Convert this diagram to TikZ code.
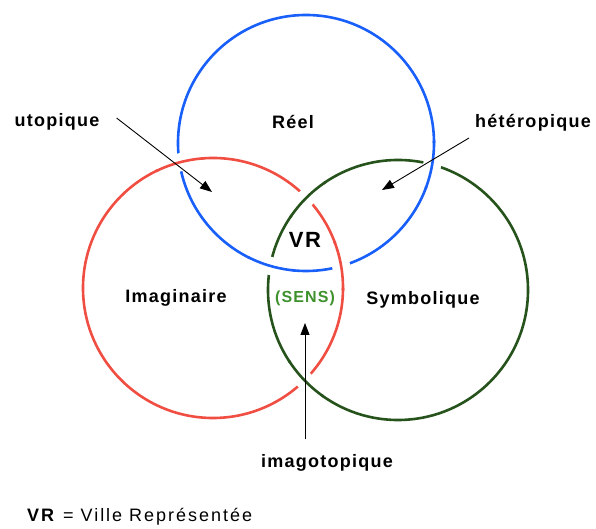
\documentclass[tikz,border=0pt]{standalone}
\usepackage{fontspec}
\setmainfont{Liberation Sans}
\newfontfamily\lblfont[LetterSpace=7]{Liberation Sans}
\newfontfamily\legfont[LetterSpace=11]{Liberation Sans}
\usetikzlibrary{arrows.meta}
\definecolor{reelblue}{RGB}{25,95,250}
\definecolor{imagred}{RGB}{240,78,66}
\definecolor{symbgreen}{RGB}{38,82,28}
\definecolor{sensgreen}{RGB}{62,145,45}

\begin{document}
\begin{tikzpicture}[
  x=1pt, y=1pt,
  font=\lblfont\bfseries\fontsize{18}{21}\selectfont,
  ring/.style={line width=2.6pt},
  gap/.style={line width=18pt, white},
  arr/.style={-{Triangle[length=12pt,width=9pt]}, line width=0.9pt},
  lbl/.style={inner sep=3pt}
]
\useasboundingbox (0,0) rectangle (596,529);
\coordinate (reel) at (306,386);
\coordinate (imag) at (213,241);
\coordinate (symb) at (398,239);
\draw[ring, reelblue] (reel) circle[radius=128pt];
\draw[ring, imagred] (imag) circle[radius=130pt];
\draw[ring, symbgreen] (symb) circle[radius=130pt];
\foreach \c/\r/\col/\a in {imag/130/imagred/105, imag/130/imagred/10,
    reel/128/reelblue/254, reel/128/reelblue/350,
    symb/130/symbgreen/135, symb/130/symbgreen/224}{
  \draw[gap] (\c) ++(\a-10:\r pt) arc[start angle=\a-10, end angle=\a+10, radius=\r pt];
  \draw[ring, \col] (\c) ++(\a-11:\r pt) arc[start angle=\a-11, end angle=\a+11, radius=\r pt];
}
\coordinate (utoT) at (212,337);
\coordinate (hetT) at (382,339);
\coordinate (imaT) at (305,206);
\node[lbl] (utop) at (57,407) {utopique};
\node[lbl] (reelL) at (293,407) {Réel};
\node[lbl] (hetero) at (533,406) {hétéropique};
\node[lbl, font=\lblfont\bfseries\fontsize{22}{24}\selectfont] (vr) at (305,289) {VR};
\node[lbl] (imagL) at (176,231) {Imaginaire};
\node[lbl, sensgreen, font=\lblfont\bfseries\fontsize{16}{19}\selectfont] (sens) at (305,231) {(SENS)};
\node[lbl] (symbL) at (423,229) {Symbolique};
\node[lbl] (imago) at (327,66) {imagotopique};
\node[lbl, anchor=west, font=\legfont\fontsize{18}{21}\selectfont] (legend) at (24,12) {\textbf{VR} = Ville Représentée};
\draw[arr] ([xshift=14pt,yshift=4pt]utop.east) -- (utoT);
\draw[arr] ([xshift=-64pt,yshift=-15pt]hetero.center) -- (hetT);
\draw[arr] ([xshift=-22pt,yshift=12pt]imago.north) -- (imaT);
\end{tikzpicture}
\end{document}
